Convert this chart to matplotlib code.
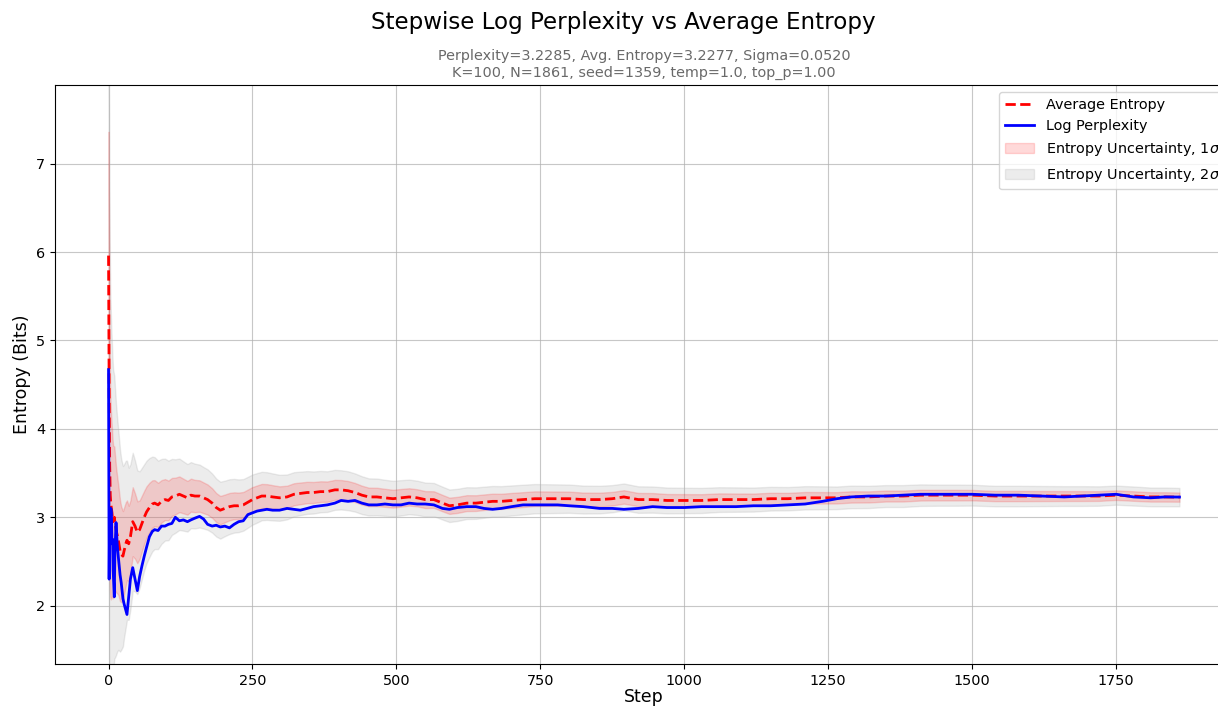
import numpy as np
import matplotlib
matplotlib.use("Agg")
import matplotlib.pyplot as plt

# valores (paso, entropia media, log perplejidad, sigma)
pasos = [0, 1, 2, 3, 4, 5, 6, 7, 8, 10, 11, 13, 15, 17, 20, 22, 25, 27, 30, 32,
         35, 38, 42, 46, 50, 54, 58, 62, 66, 71, 76, 80, 86, 92, 98, 104, 110, 116, 123, 130,
         137, 143, 150, 158, 165, 172, 180, 187, 194, 202, 210, 218, 226, 234, 242, 250, 258, 266, 275, 285,
         297, 310, 322, 333, 345, 356, 368, 380, 393, 404, 416, 428, 440, 452, 466, 480, 494, 508, 522, 536,
         550, 565, 580, 592, 606, 622, 638, 652, 667, 682, 700, 720, 740, 760, 780, 800, 825, 853, 875, 895,
         920, 945, 970, 1000, 1030, 1060, 1090, 1120, 1150, 1180, 1210, 1240, 1265, 1290, 1320, 1350, 1380, 1410, 1440, 1470,
         1500, 1540, 1580, 1620, 1660, 1690, 1720, 1750, 1780, 1810, 1835, 1860]

entropia_media = [5.96, 4.5, 3.6, 3.25, 3.15, 3.1, 3.05, 2.98, 2.95, 3.0, 2.95, 2.86, 2.8, 2.74, 2.62, 2.58, 2.56, 2.62, 2.7, 2.74,
                  2.7, 2.78, 2.95, 2.9, 2.83, 2.86, 2.93, 3.0, 3.06, 3.11, 3.15, 3.16, 3.14, 3.18, 3.2, 3.19, 3.23, 3.24, 3.26, 3.24,
                  3.22, 3.25, 3.24, 3.24, 3.22, 3.2, 3.16, 3.11, 3.08, 3.1, 3.12, 3.13, 3.13, 3.14, 3.17, 3.2, 3.22, 3.24, 3.24, 3.23,
                  3.22, 3.23, 3.26, 3.27, 3.28, 3.28, 3.29, 3.29, 3.31, 3.31, 3.3, 3.28, 3.25, 3.23, 3.23, 3.22, 3.21, 3.22, 3.23, 3.22,
                  3.2, 3.2, 3.16, 3.13, 3.14, 3.16, 3.16, 3.17, 3.18, 3.18, 3.19, 3.2, 3.21, 3.21, 3.21, 3.21, 3.2, 3.2, 3.21, 3.23,
                  3.2, 3.2, 3.19, 3.19, 3.19, 3.2, 3.2, 3.2, 3.21, 3.21, 3.22, 3.22, 3.22, 3.23, 3.23, 3.24, 3.24, 3.25, 3.25, 3.25,
                  3.25, 3.24, 3.24, 3.24, 3.24, 3.24, 3.24, 3.25, 3.24, 3.23, 3.23, 3.228]

log_perplejidad = [4.67, 2.3, 3.1, 2.9, 3.1, 3.05, 2.7, 2.75, 2.4, 2.1, 2.6, 2.94, 2.7, 2.55, 2.35, 2.26, 2.08, 2.02, 1.95, 1.9,
                   2.1, 2.3, 2.43, 2.3, 2.17, 2.33, 2.45, 2.56, 2.66, 2.78, 2.84, 2.86, 2.85, 2.9, 2.9, 2.92, 2.93, 3.0, 2.96, 2.97,
                   2.95, 2.97, 2.99, 3.01, 2.98, 2.92, 2.9, 2.91, 2.89, 2.9, 2.88, 2.92, 2.95, 2.96, 3.03, 3.05, 3.07, 3.08, 3.09, 3.08,
                   3.08, 3.1, 3.09, 3.08, 3.1, 3.12, 3.13, 3.14, 3.16, 3.19, 3.18, 3.19, 3.16, 3.14, 3.14, 3.15, 3.14, 3.14, 3.16, 3.15,
                   3.15, 3.14, 3.1, 3.09, 3.11, 3.12, 3.12, 3.1, 3.09, 3.1, 3.12, 3.14, 3.14, 3.14, 3.14, 3.13, 3.12, 3.1, 3.1, 3.09,
                   3.1, 3.12, 3.11, 3.11, 3.12, 3.12, 3.12, 3.13, 3.13, 3.14, 3.15, 3.18, 3.21, 3.23, 3.24, 3.24, 3.25, 3.26, 3.26, 3.26,
                   3.26, 3.25, 3.25, 3.24, 3.23, 3.24, 3.25, 3.26, 3.23, 3.22, 3.23, 3.2285]

sigma = [1.4, 1.55, 1.3, 1.15, 1.08, 1.0, 0.95, 0.9, 0.86, 0.8, 0.77, 0.71, 0.66, 0.62, 0.57, 0.54, 0.51, 0.49, 0.47, 0.45,
         0.43, 0.41, 0.39, 0.37, 0.35, 0.33, 0.315, 0.3, 0.29, 0.28, 0.268, 0.26, 0.25, 0.24, 0.232, 0.225, 0.215, 0.208, 0.202, 0.196,
         0.191, 0.187, 0.183, 0.178, 0.174, 0.171, 0.167, 0.164, 0.161, 0.157, 0.155, 0.152, 0.149, 0.146, 0.144, 0.142, 0.14, 0.137, 0.135, 0.133,
         0.13, 0.127, 0.125, 0.123, 0.121, 0.119, 0.117, 0.115, 0.113, 0.111, 0.11, 0.108, 0.107, 0.105, 0.104, 0.102, 0.101, 0.1, 0.098, 0.097,
         0.096, 0.094, 0.093, 0.092, 0.091, 0.09, 0.089, 0.088, 0.087, 0.086, 0.085, 0.084, 0.083, 0.082, 0.081, 0.08, 0.079, 0.078, 0.077, 0.076,
         0.075, 0.074, 0.073, 0.072, 0.071, 0.07, 0.069, 0.068, 0.067, 0.066, 0.066, 0.065, 0.064, 0.064, 0.063, 0.062, 0.062, 0.061, 0.06, 0.06,
         0.059, 0.058, 0.058, 0.057, 0.056, 0.056, 0.055, 0.054, 0.054, 0.053, 0.053, 0.052]

titulo = "Stepwise Log Perplexity vs Average Entropy"
subtitulo = ("Perplexity=3.2285, Avg. Entropy=3.2277, Sigma=0.0520\n"
             "K=100, N=1861, seed=1359, temp=1.0, top_p=1.00")

x = np.array(pasos)
media = np.array(entropia_media)
ppl = np.array(log_perplejidad)
sig = np.array(sigma)

fig = plt.figure(figsize=(12.18, 7.08), dpi=100)
# el original esta recortado por la derecha y por abajo
ax = fig.add_axes([55 / 1218, 44 / 708, 1178 / 1218, 579 / 708])

ax.fill_between(x, media - 2 * sig, media + 2 * sig, color='gray', alpha=0.15,
                label=r'Entropy Uncertainty, 2$\sigma$', zorder=1)
ax.fill_between(x, media - sig, media + sig, color='red', alpha=0.15,
                label=r'Entropy Uncertainty, 1$\sigma$', zorder=2)
ax.plot(x, media, 'r--', linewidth=2, label='Average Entropy', zorder=3)
ax.plot(x, ppl, 'b-', linewidth=2, label='Log Perplexity', zorder=4)

ax.set_ylim(1.34, 7.89)
ax.grid(True, alpha=0.7)
ax.tick_params(labelsize=10.4)
ax.set_xlabel('Step', fontsize=12.5, labelpad=0.5)
ax.set_ylabel('Entropy (Bits)', fontsize=12.5)
ax.set_title(subtitulo, fontsize=10.4, color='dimgray')
fig.suptitle(titulo, fontsize=16.6, x=623 / 1218, y=0.984)

handles, labels = ax.get_legend_handles_labels()
orden = [2, 3, 1, 0]
ax.legend([handles[i] for i in orden], [labels[i] for i in orden], loc='upper right', fontsize=10.4)

fig.savefig('out.png', dpi=100)
